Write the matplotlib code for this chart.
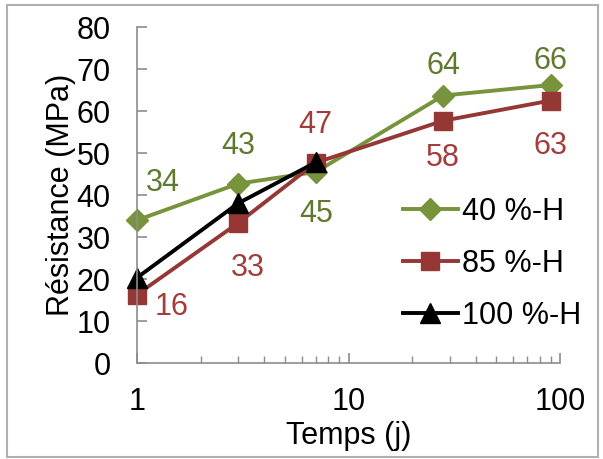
import matplotlib
matplotlib.use("Agg")
import matplotlib.pyplot as plt
from matplotlib.ticker import LogLocator, FixedLocator, NullFormatter

plt.rcParams['font.family'] = ['Liberation Sans', 'DejaVu Sans']

# data
days = [1, 3, 7, 28, 90]
h40 = [34, 42.7, 45.5, 63.7, 66.2]
h85 = [16.3, 33.3, 47.7, 57.7, 62.5]
h100 = [20.3, 38, 47.8]
labels40 = ["34", "43", "45", "64", "66"]
labels85 = ["16", "33", "47", "58", "63"]
yticks = [0, 10, 20, 30, 40, 50, 60, 70, 80]

green = "#77933C"
red = "#953735"
green_txt = "#5F7A2E"
red_txt = "#A33D3B"
FS = 22

fig = plt.figure(figsize=(6.03, 4.59), dpi=100)
ax = fig.add_axes([0.227, 0.209, 0.702, 0.732])

ax.plot(days, h40, color=green, lw=2.8, marker="D", ms=11, label="40 %-H", clip_on=False)
ax.plot(days, h85, color=red, lw=2.8, marker="s", ms=13, label="85 %-H", clip_on=False)
ax.plot(days[:3], h100, color="black", lw=2.8, marker="^", ms=14, label="100 %-H", clip_on=False)

# value labels (offsets in points)
off40 = [(19, 27), (0, 27), (0, -30), (0, 21), (0, 17)]
off85 = [(25, -9), (7, -32), (0, 27), (0, -27), (0, -33)]
for x, y, t, o in zip(days, h40, labels40, off40):
    ax.annotate(t, (x, y), xytext=o, textcoords="offset points",
                ha="center", va="center", fontsize=FS, color=green_txt)
for x, y, t, o in zip(days, h85, labels85, off85):
    ax.annotate(t, (x, y), xytext=o, textcoords="offset points",
                ha="center", va="center", fontsize=FS, color=red_txt)

ax.set_xscale("log")
ax.set_xlim(1, 100)
ax.set_ylim(0, 80)
ax.set_yticks(yticks)
ax.xaxis.set_major_locator(FixedLocator([1, 10, 100]))
ax.set_xticklabels(["1", "10", "100"])
ax.xaxis.set_minor_locator(LogLocator(base=10, subs=range(2, 10)))
ax.xaxis.set_minor_formatter(NullFormatter())

for s in ["top", "right"]:
    ax.spines[s].set_visible(False)
for s in ["left", "bottom"]:
    ax.spines[s].set_color("#8C8C8C")
    ax.spines[s].set_linewidth(1.2)
ax.tick_params(axis="both", which="both", direction="in", color="#8C8C8C",
               labelsize=FS)
ax.tick_params(axis="y", which="major", length=7, width=1.2, pad=19)
ax.tick_params(axis="x", which="major", length=7, width=1.2, pad=17)
ax.tick_params(axis="x", which="minor", length=5, width=1.0)

ax.set_xlabel("Temps (j)", fontsize=FS, labelpad=3)
ax.set_ylabel("Résistance (MPa)", fontsize=FS, labelpad=0)

ax.legend(loc="center left", bbox_to_anchor=(0.668, 0.425),
          bbox_transform=fig.transFigure, frameon=False,
          fontsize=FS, handlelength=1.8, handletextpad=0.15, labelspacing=0.72,
          borderpad=0, borderaxespad=0)

fig.patches.append(plt.Rectangle((0.011, 0.004), 0.98, 0.985, transform=fig.transFigure,
                                 fill=False, edgecolor="#B0B0B0", lw=1.5))

fig.savefig("out.png", dpi=100)
